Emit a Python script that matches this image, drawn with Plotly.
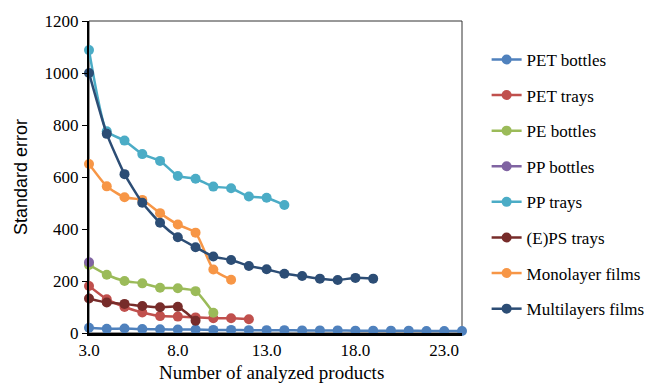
import plotly.graph_objects as go

names = ["PET bottles", "PET trays", "PE bottles", "PP bottles", "PP trays",
         "(E)PS trays", "Monolayer films", "Multilayers films"]
colors = ["#4F81BD", "#C0504D", "#9BBB59", "#8064A2", "#4BACC6",
          "#772C2A", "#F79646", "#2C4D75"]

pet_bottles = [20, 16, 17, 15, 14, 13, 13, 12, 12, 11, 11, 11, 10, 10, 10, 9, 9, 9, 9, 8, 8, 8]
pet_trays = [181, 130, 100, 79, 65, 63, 60, 57, 57, 53]
pe_bottles = [262, 224, 200, 191, 174, 172, 161, 78]
pp_bottles = [272]
pp_trays = [1088, 776, 740, 688, 662, 604, 593, 563, 557, 525, 520, 492]
eps_trays = [133, 117, 112, 104, 99, 101, 47]
monolayer = [650, 564, 522, 512, 461, 417, 386, 244, 205]
multilayer = [1000, 766, 611, 501, 424, 368, 330, 294, 281, 258, 245, 228, 219, 209, 204, 212, 209]

series = [pet_bottles, pet_trays, pe_bottles, pp_bottles, pp_trays,
          eps_trays, monolayer, multilayer]
x_start = 3

SERIF = "Liberation Serif, Times New Roman, Times, serif"
SANS = "Liberation Sans, Arial, sans-serif"

fig = go.Figure()
for i, (name, col, vals) in enumerate(zip(names, colors, series)):
    xs = [x_start + k for k in range(len(vals))]
    fig.add_trace(go.Scatter(
        x=xs, y=vals, name=name, mode="lines+markers",
        line=dict(color=col, width=2.5, shape="spline", smoothing=0.5),
        marker=dict(color=col, size=10),
        cliponaxis=False, legendgroup=f"g{i}",
    ))

fig.update_layout(
    width=646, height=384,
    margin=dict(l=81, r=192, t=13, b=59, autoexpand=False),
    plot_bgcolor="white", paper_bgcolor="white",
    font=dict(family=SERIF, size=17, color="black"),
    showlegend=True,
    legend=dict(x=1.066, y=0.933, xanchor="left", yanchor="top",
                font=dict(family=SERIF, size=17, color="black"),
                tracegroupgap=10.5, traceorder="grouped",
                bgcolor="rgba(0,0,0,0)"),
    xaxis=dict(range=[3, 24], tick0=3, dtick=5, tickformat=".1f",
               showgrid=False, zeroline=False, showline=True, automargin=False,
               linecolor="black", linewidth=2.5, ticks="",
               tickfont=dict(family=SERIF, size=17)),
    yaxis=dict(range=[0, 1200], dtick=200, showgrid=False, zeroline=False,
               showline=True, linecolor="black", linewidth=2, automargin=False,
               ticks="outside", ticklen=5, tickcolor="black",
               tickfont=dict(family=SERIF, size=17)),
    shapes=[dict(type="rect", xref="paper", yref="paper", x0=0, x1=1, y0=0, y1=1,
                 line=dict(color="#333333", width=1), layer="below")],
    annotations=[
        dict(text="Standard error", xref="paper", yref="paper",
             x=-0.182, y=0.5, xanchor="center", yanchor="middle",
             textangle=-90, showarrow=False,
             font=dict(family=SANS, size=18, color="black")),
        dict(text="Number of analyzed products", xref="paper", yref="paper",
             x=0.49, y=-0.085, xanchor="center", yanchor="top",
             showarrow=False,
             font=dict(family=SERIF, size=19, color="black")),
    ],
)

fig.write_html("out.html")
